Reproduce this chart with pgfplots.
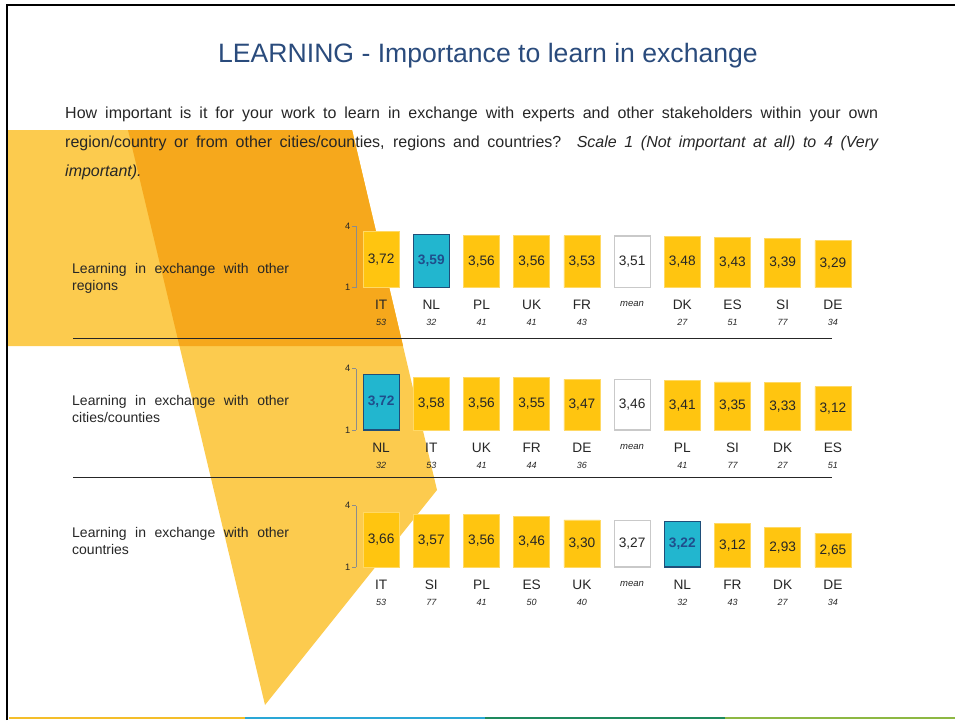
\documentclass[border=0pt]{standalone}
\usepackage{fontspec}
\setmainfont{Liberation Sans}
\usepackage{pgfplots}
\usepackage{pgfplotstable}
\pgfplotsset{compat=1.18}

\definecolor{barY}{HTML}{FFC510}
\definecolor{barYe}{HTML}{FFD965}
\definecolor{barC}{HTML}{22B6CF}
\definecolor{barCe}{HTML}{1F4E79}
\definecolor{nlTxt}{HTML}{1F4E8C}
\definecolor{meanE}{HTML}{C9C9C9}
\definecolor{titleC}{HTML}{2A4B7C}
\definecolor{txt}{HTML}{262626}
\definecolor{axisG}{HTML}{8C8C8C}
\definecolor{polyL}{HTML}{FCCB4E}
\definecolor{polyD}{HTML}{F6A81C}
\definecolor{stripA}{HTML}{F4BE2A}
\definecolor{stripB}{HTML}{2AA7D6}
\definecolor{stripC}{HTML}{1E8A5E}
\definecolor{stripD}{HTML}{8DB843}

% c: 0 = country, 1 = mean, 2 = NL (highlighted)
\pgfplotstableread{
x v c
0 3.72 0
1 3.59 2
2 3.56 0
3 3.56 0
4 3.53 0
5 3.51 1
6 3.48 0
7 3.43 0
8 3.39 0
9 3.29 0
}\rowA
\pgfplotstableread{
x v c
0 3.72 2
1 3.58 0
2 3.56 0
3 3.55 0
4 3.47 0
5 3.46 1
6 3.41 0
7 3.35 0
8 3.33 0
9 3.12 0
}\rowB
\pgfplotstableread{
x v c
0 3.66 0
1 3.57 0
2 3.56 0
3 3.46 0
4 3.30 0
5 3.27 1
6 3.22 2
7 3.12 0
8 2.93 0
9 2.65 0
}\rowC

\newcommand{\cl}[2]{\rule{0pt}{10pt}#1\\[2.5pt]{\fontsize{9}{9}\selectfont\itshape #2}}
\newcommand{\mn}{\rule{0pt}{7pt}{\fontsize{9.5}{9.5}\selectfont\itshape mean}}

\pgfplotsset{
  rowaxis/.style={
    scale only axis, width=502pt, height=61.5pt,
    anchor=south west, clip=false,
    xmin=-0.5, xmax=9.5, ymin=0, ymax=3,
    axis lines*=left,
    x axis line style={draw=none},
    y axis line style={draw=axisG, line width=0.9pt},
    ytick={0,3}, yticklabels={1,4},
    ytick style={draw=axisG, line width=0.9pt},
    major tick length=4pt, tick align=outside,
    yticklabel style={font=\fontsize{9.3}{9.3}\selectfont, text=txt, inner sep=1.5pt},
    xtick={0,...,9}, xtick style={draw=none},
    xticklabel style={align=center, anchor=north, inner sep=0pt,
      font=\fontsize{13.7}{13.7}\selectfont, text=txt, yshift=-8pt},
    /pgf/number format/.cd, use comma, fixed, fixed zerofill, precision=2,
    assume math mode=true,
  },
  ybars/.style={ybar, bar width=36pt, bar shift=0pt},
  vals/.style={only marks, mark=none, nodes near coords,
    nodes near coords style={anchor=center, font=\fontsize{13.7}{13.7}\selectfont, text=txt}},
}

\newcommand{\rowplots}[1]{%
  \addplot[ybars, fill=barY, draw=barYe, line width=0.6pt,
    restrict expr to domain={\thisrow{c}}{0:0}]
    table[x=x, y expr=\thisrow{v}-1] {#1};
  \addplot[ybars, fill=white, draw=meanE, line width=1.2pt,
    restrict expr to domain={\thisrow{c}}{1:1}]
    table[x=x, y expr=\thisrow{v}-1] {#1};
  \addplot[ybars, fill=barC, draw=barCe, line width=1.2pt,
    restrict expr to domain={\thisrow{c}}{2:2}]
    table[x=x, y expr=\thisrow{v}-1] {#1};
  \addplot[vals, point meta=\thisrow{v},
    restrict expr to domain={\thisrow{c}}{0:1}]
    table[x=x, y expr=(\thisrow{v}-1)/2] {#1};
  \addplot[vals, point meta=\thisrow{v},
    nodes near coords style={text=nlTxt, font=\fontsize{13.7}{13.7}\selectfont\bfseries},
    restrict expr to domain={\thisrow{c}}{2:2}]
    table[x=x, y expr=(\thisrow{v}-1)/2] {#1};
}

\begin{document}
\begin{tikzpicture}
\path[use as bounding box] (0,0) rectangle (955pt,-720pt);
\begin{scope}[x=1pt,y=-1pt]
  % decorative shapes
  \fill[polyL] (8,130) -- (352,130) -- (403,346) -- (8,346) -- cycle;
  \fill[polyL] (128,130) -- (352,130) -- (437,490) -- (265,705) -- cycle;
  \fill[polyD] (128,130) -- (352,130) -- (403,346) -- (179.5,346) -- cycle;
  % frame
  \draw[black, line width=2.2pt] (7,720) -- (7,5) -- (955,5);
  \draw[stripA, line width=2pt] (9,717.5) -- (245,717.5);
  \draw[stripB, line width=2pt] (245,717.5) -- (485,717.5);
  \draw[stripC, line width=2pt] (485,717.5) -- (725,717.5);
  \draw[stripD, line width=2pt] (725,717.5) -- (955,717.5);
  % title and question
  \node[font=\fontsize{26.6}{26.6}\selectfont, text=titleC] at (488,56)
    {LEARNING - Importance to learn in exchange};
  \node[anchor=north west, inner sep=0pt, text width=813pt, align=justify,
        font=\fontsize{16}{29}\selectfont, text=txt] at (65,106.3)
    {\hyphenpenalty=10000\sloppy How important is it for your work to learn in exchange with experts and other stakeholders within your own\linebreak
     region/country or from other cities/counties, regions and countries? \textit{Scale 1 (Not important at all) to 4 (Very\linebreak important).}};
  % row labels
  \foreach \yy/\tt in {263/regions, 395/{cities/counties}, 527/countries}{
    \node[anchor=north west, inner sep=0pt, text width=217pt, align=justify,
          font=\fontsize{14}{17}\selectfont, text=txt] at (72,\yy)
      {\hyphenpenalty=10000 Learning in exchange with other\linebreak \tt};
  }
  % separators
  \draw[txt, line width=0.9pt] (73,338) -- (832,338);
  \draw[txt, line width=0.9pt] (73,477) -- (832,477);
\end{scope}

\begin{axis}[rowaxis, at={(356pt,-287.5pt)},
  xticklabels={\cl{IT}{53},\cl{NL}{32},\cl{PL}{41},\cl{UK}{41},\cl{FR}{43},\mn,\cl{DK}{27},\cl{ES}{51},\cl{SI}{77},\cl{DE}{34}}]
\rowplots{\rowA}
\end{axis}

\begin{axis}[rowaxis, at={(356pt,-430pt)},
  xticklabels={\cl{NL}{32},\cl{IT}{53},\cl{UK}{41},\cl{FR}{44},\cl{DE}{36},\mn,\cl{PL}{41},\cl{SI}{77},\cl{DK}{27},\cl{ES}{51}}]
\rowplots{\rowB}
\end{axis}

\begin{axis}[rowaxis, at={(356pt,-567pt)},
  xticklabels={\cl{IT}{53},\cl{SI}{77},\cl{PL}{41},\cl{ES}{50},\cl{UK}{40},\mn,\cl{NL}{32},\cl{FR}{43},\cl{DK}{27},\cl{DE}{34}}]
\rowplots{\rowC}
\end{axis}
\end{tikzpicture}
\end{document}
